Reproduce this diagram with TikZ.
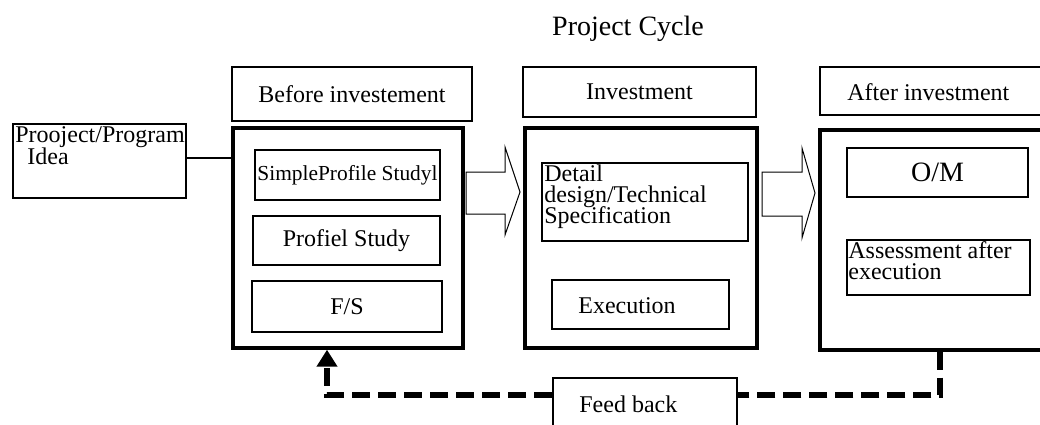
\documentclass[tikz,border=0pt]{standalone}
\usepackage{fontspec}
\setmainfont{Liberation Serif}
\usetikzlibrary{arrows.meta}

\begin{document}
\begin{tikzpicture}[x=0.5pt, y=-0.5pt, font=\fontsize{12}{10.5}\selectfont,
    box/.style={draw, line width=1.2pt, inner sep=0pt},
    hdr/.style={draw, line width=0.9pt, inner sep=0pt},
    stage/.style={draw, line width=1.7pt, inner sep=0pt},
    txt/.style={inner sep=0pt, anchor=base west},
    blockarrow/.style={draw, line width=0.5pt},
    fb/.style={line width=3pt, dash pattern=on 9pt off 4pt}]
  \useasboundingbox (0,0) rectangle (1040,424);
  \clip (0,0) rectangle (1040,424);

  \node[inner sep=0pt, anchor=base, font=\fontsize{14}{16}\selectfont] (title) at (628,35) {Project Cycle};

  % idea
  \node[box, minimum width=86.5pt, minimum height=37pt] (idea) at (99.5,161) {};
  \node[txt] (idea1) at (15,142) {Prooject/Program};
  \node[txt] (idea2) at (27,164) {Idea};

  % headers
  \node[hdr, minimum width=120pt, minimum height=27pt] (hdrA) at (352,94) {Before investement};
  \node[hdr, minimum width=116.5pt, minimum height=25pt] (hdrB) at (639.5,92) {Investment};
  \node[hdr, minimum width=120pt, minimum height=24pt] (hdrC) at (940,91) {};
  \node[txt] (hdrCt) at (847,100) {After investment};

  % stages
  \node[stage, minimum width=115pt, minimum height=110pt] (stageA) at (348,238) {};
  \node[stage, minimum width=116pt, minimum height=110pt] (stageB) at (641,238) {};
  \node[stage, minimum width=120pt, minimum height=110pt] (stageC) at (940,240) {};

  % before investment
  \node[box, minimum width=92.5pt, minimum height=25pt, font=\fontsize{10.7}{12}\selectfont] (simple) at (347.5,175) {SimpleProfile Studyl};
  \node[box, minimum width=93.5pt, minimum height=24.5pt] (profile) at (346.5,240.5) {Profiel Study};
  \node[box, minimum width=95pt, minimum height=25.5pt] (fs) at (347,306.5) {F/S};

  % investment
  \node[box, minimum width=103pt, minimum height=39pt] (detail) at (645,202) {};
  \node[txt] (detail1) at (544,181) {Detail};
  \node[txt] (detail2) at (544,202) {design/Technical};
  \node[txt] (detail3) at (544,223) {Specification};
  \node[box, minimum width=88.5pt, minimum height=24.5pt] (exec) at (640.5,304.5) {};
  \node[txt] (exect) at (578,313) {Execution};

  % after investment
  \node[box, minimum width=90.5pt, minimum height=24.5pt, font=\fontsize{14}{16}\selectfont] (om) at (937.5,172.5) {O/M};
  \node[box, minimum width=91.5pt, minimum height=27.5pt] (assess) at (938.5,267.5) {};
  \node[txt] (assess1) at (848,258) {Assessment after};
  \node[txt] (assess2) at (848,279) {execution};

  % feed back
  \node[box, minimum width=92pt, minimum height=31pt] (feedback) at (645,409) {};
  \node[txt] (feedbackt) at (579,412) {Feed back};

  % block arrows
  \draw[blockarrow] (466,172) -- (505,172) -- (505,147) -- (520,192) -- (505,235) -- (505,214) -- (466,214) -- cycle;
  \draw[blockarrow] (762,172) -- (802,172) -- (802,148) -- (815,193) -- (802,238) -- (802,216) -- (762,216) -- cycle;

  \draw[line width=1pt] ([yshift=1.5pt]idea.east) -- ([yshift=1.5pt]stageA.west |- idea.east);
  \draw[fb] (stageC.south) |- ([yshift=7pt]feedback.east);
  \draw[fb, -{Triangle[width=10pt,length=8.5pt]}] ([yshift=7pt]feedback.west) -| ([xshift=-10.5pt]stageA.south);
\end{tikzpicture}
\end{document}
